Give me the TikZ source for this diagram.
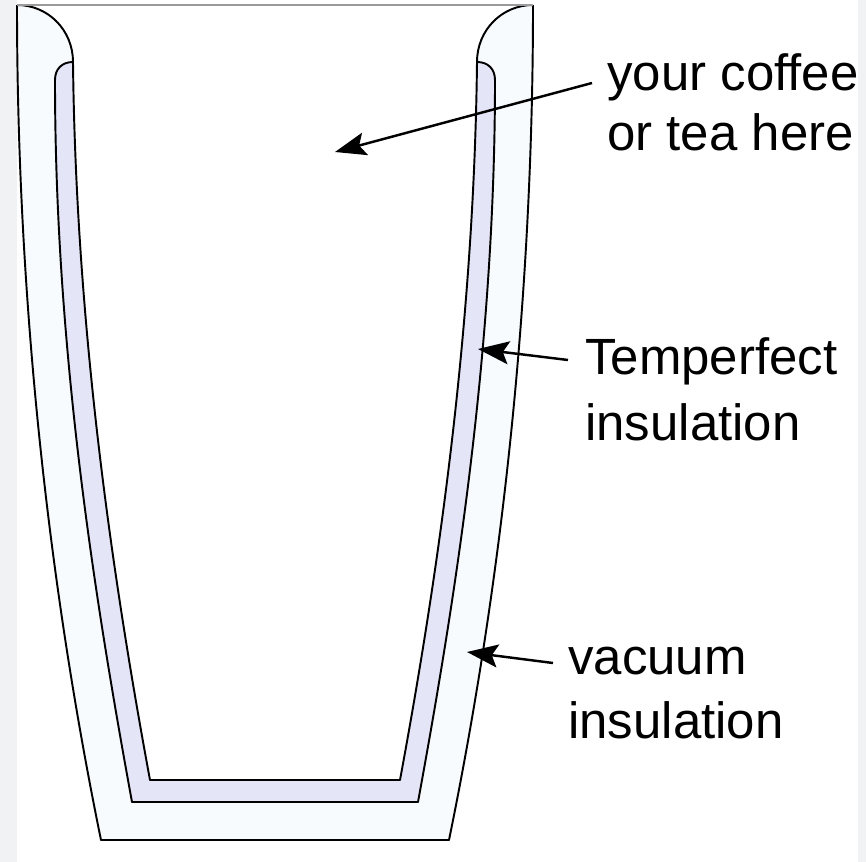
\documentclass[tikz,border=0pt]{standalone}
\usepackage{fontspec}
\setmainfont{Liberation Sans}
\usepackage{xcolor}
\usepackage{tikz}
\usetikzlibrary{arrows.meta, backgrounds}
\definecolor{pagegrey}{HTML}{F1F2F4}
\definecolor{vacuumfill}{HTML}{F7FBFD}
\definecolor{lavfill}{HTML}{E5E5F8}
\definecolor{rimgrey}{HTML}{9A9A9A}

\begin{document}
\begin{tikzpicture}[x=0.02cm, y=-0.02cm,
        cupline/.style={line width=1.1pt, black, line join=round},
        rimline/.style={line width=1.2pt, rimgrey},
        pointer/.style={line width=1.4pt, -{Stealth[length=0.62cm, width=0.46cm, inset=0.12cm]}},
        lbl/.style={anchor=base west, align=left, inner sep=0pt, font=\fontsize{29}{36}\selectfont}]
        %\draw (0,0) grid[step=50] (866,862);
        \useasboundingbox (0,0) rectangle (866,862);
        \fill[pagegrey] (0,0) rectangle (866,862);
        \fill[white] (17,0) rectangle (858,862);

        % outer wall, vacuum gap
        \draw[cupline, fill=vacuumfill] (17,5) .. controls (17,350) and (60,640) .. (101,840)
            -- (449,840) .. controls (490,640) and (533,350) .. (533,5);
        % imperfect insulation layer
        \draw[cupline, fill=lavfill] (73,62) .. controls (62,62) and (55,69) .. (55,80)
            .. controls (55,350) and (95,600) .. (132,802) -- (418,802)
            .. controls (455,600) and (495,350) .. (495,80)
            .. controls (495,69) and (488,62) .. (477,62);
        % inside of the cup
        \draw[cupline, fill=white] (17,5) .. controls (48,5) and (73,30) .. (73,62)
            .. controls (76,330) and (113,580) .. (150,780) -- (400,780)
            .. controls (437,580) and (474,330) .. (477,62)
            .. controls (477,30) and (502,5) .. (533,5);
        \draw[rimline] (17,5) -- (533,5);

        % base anchor sits on the last line
        \node[lbl, font=\fontsize{29}{34}\selectfont] (coffee) at (607,150) {your coffee\\or tea here};
        \node[lbl, font=\fontsize{29}{37}\selectfont] (imperfect) at (585,440) {Temperfect\\insulation};
        \node[lbl] (vacuum) at (568,738) {vacuum\\insulation};

        \coordinate (coffeetip) at (335,152);
        \coordinate (imperfecttip) at (478,349);
        \coordinate (vacuumtip) at (467,652);

        \draw[pointer] ([shift={(-15,-67)}]coffee.base west) -- (coffeetip);
        \draw[pointer] ([shift={(-17,-80)}]imperfect.base west) -- (imperfecttip);
        \draw[pointer] ([shift={(-15,-75)}]vacuum.base west) -- (vacuumtip);
    \end{tikzpicture}
\end{document}
